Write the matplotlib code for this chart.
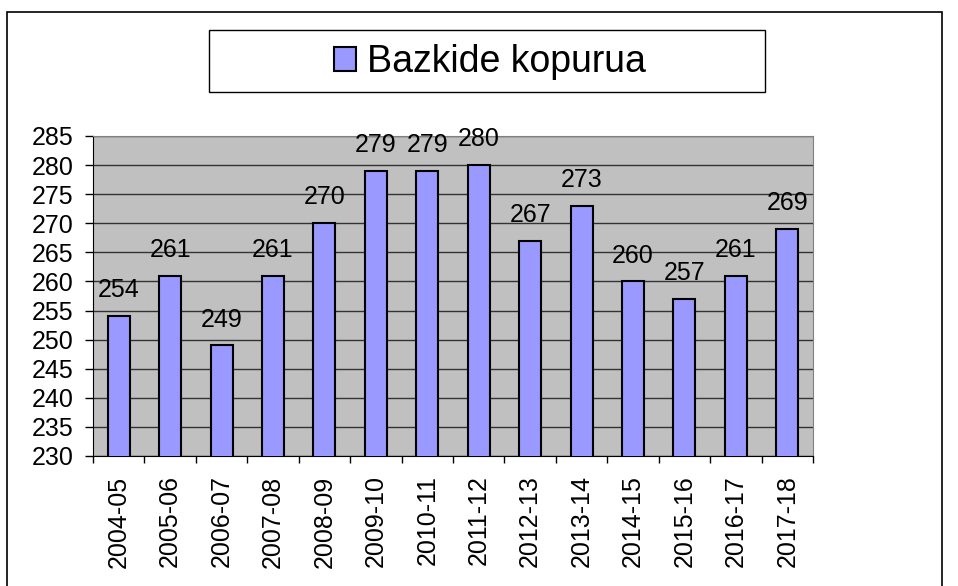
import matplotlib
matplotlib.use("Agg")
import matplotlib.pyplot as plt
from matplotlib.patches import Rectangle

# data
seasons = ["2004-05", "2005-06", "2006-07", "2007-08", "2008-09", "2009-10", "2010-11",
           "2011-12", "2012-13", "2013-14", "2014-15", "2015-16", "2016-17", "2017-18"]
members = [254, 261, 249, 261, 270, 279, 279, 280, 267, 273, 260, 257, 261, 269]
yticks = list(range(230, 286, 5))
series_name = "Bazkide kopurua"

plt.rcParams['font.family'] = ['Liberation Sans', 'DejaVu Sans']

W, H = 958, 586
fig = plt.figure(figsize=(W / 100, H / 100), dpi=100)

def px(x0, y0, x1, y1):
    # pixel box (top-left origin) -> figure fraction [l, b, w, h]
    return [x0 / W, 1 - y1 / H, (x1 - x0) / W, (y1 - y0) / H]

# outer chart border (bottom edge falls outside the image)
fig.patches.append(Rectangle((7 / W, -0.05), (942 - 7) / W, 1.05 - 12 / H,
                             transform=fig.transFigure, fill=False,
                             edgecolor='black', lw=1.2))

ax = fig.add_axes(px(93, 136, 813, 456))
ax.set_facecolor('#C0C0C0')
x = range(len(seasons))
bars = ax.bar(x, members, width=0.43, bottom=0, color='#9999FF',
              edgecolor='black', linewidth=1.5, zorder=3, label=series_name)

ax.set_ylim(230, 285)
ax.set_xlim(-0.5, len(seasons) - 0.5)
ax.set_yticks(yticks)
ax.tick_params(axis='y', labelsize=18, length=6, width=1, pad=8)
ax.yaxis.grid(True, color='#333333', lw=1)
ax.set_axisbelow(True)

ax.set_xticks(list(x))
ax.set_xticklabels(seasons, rotation=90, fontsize=18)
ax.tick_params(axis='x', length=0, pad=14)
ax.set_xticks([i - 0.5 for i in range(len(seasons) + 1)], minor=True)
ax.tick_params(axis='x', which='minor', length=5, width=1)

for side in ['top', 'right']:
    ax.spines[side].set_color('#808080')
for side in ['left', 'bottom']:
    ax.spines[side].set_color('black')

for b, v in zip(bars, members):
    ax.annotate(str(v), (b.get_x() + b.get_width() / 2, v),
                xytext=(0, 10), textcoords='offset points',
                ha='center', va='bottom', fontsize=18, zorder=4)

# legend box
fig.patches.append(Rectangle((209 / W, 1 - 92 / H), (765 - 209) / W, 62 / H,
                             transform=fig.transFigure, facecolor='white',
                             edgecolor='black', lw=1))
fig.legend(handles=[bars], labels=[series_name], loc='center',
           bbox_to_anchor=(490 / W, 1 - 62 / H), frameon=False,
           fontsize=27, handlelength=0.6, handleheight=0.6, handletextpad=0.3)

fig.savefig("out.png", dpi=100)
